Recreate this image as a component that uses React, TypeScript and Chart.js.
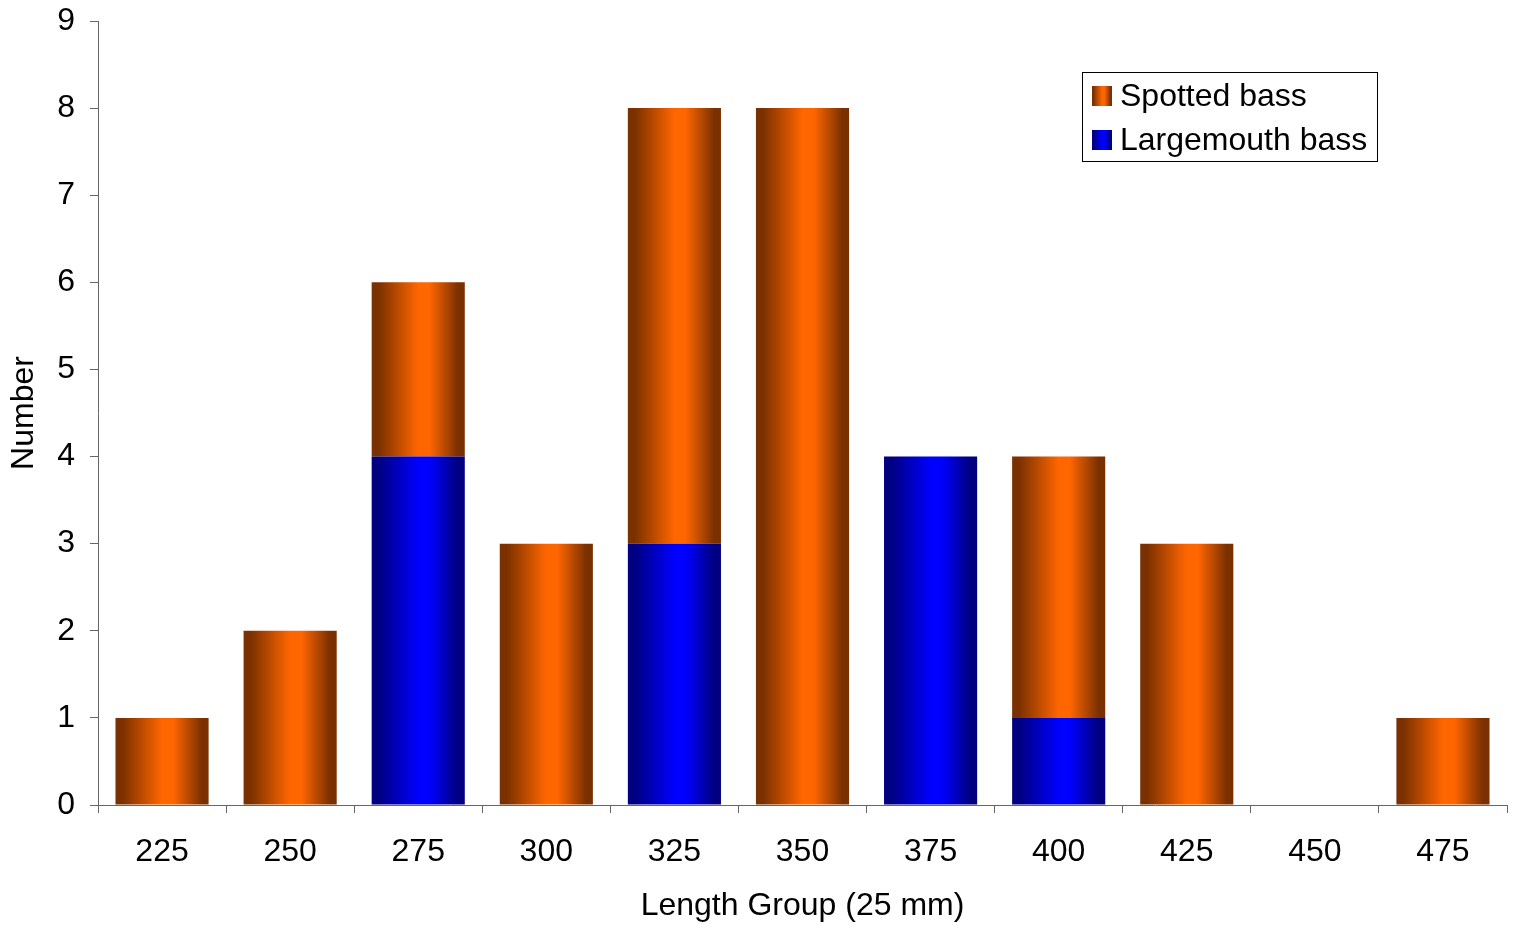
import React, { useEffect, useRef } from "react";
import { Chart, registerables } from "chart.js";

Chart.register(...registerables);

const categories = ["225", "250", "275", "300", "325", "350", "375", "400", "425", "450", "475"];
const largemouth = [0, 0, 4, 0, 3, 0, 4, 1, 0, 0, 0];
const spotted = [1, 2, 2, 3, 5, 8, 0, 3, 3, 0, 1];
const yTicks = [0, 1, 2, 3, 4, 5, 6, 7, 8, 9];

const FONT = "'Liberation Sans', Arial, sans-serif";
const FS = 32;
const BAR_FRACTION = 0.727;

const ORANGE = { dark: "#7a3000", bright: "#ff6600" };
const BLUE = { dark: "#000080", bright: "#0000ff" };

function makeGrad(c: CanvasRenderingContext2D, x0: number, x1: number, col: { dark: string; bright: string }) {
  const g = c.createLinearGradient(x0, 0, x1, 0);
  g.addColorStop(0, col.dark);
  g.addColorStop(0.07, col.dark);
  g.addColorStop(0.5, col.bright);
  g.addColorStop(0.62, col.bright);
  g.addColorStop(0.93, col.dark);
  g.addColorStop(1, col.dark);
  return g;
}

function barFill(col: { dark: string; bright: string }) {
  return (ctx: any) => {
    const chart = ctx.chart;
    const xs = chart.scales && chart.scales.x;
    if (!chart.chartArea || !xs || ctx.type !== "data") return col.bright;
    const cx = xs.getPixelForValue(ctx.dataIndex);
    const w = (xs.width / categories.length) * BAR_FRACTION;
    return makeGrad(chart.ctx, cx - w / 2, cx + w / 2, col);
  };
}

const legendPlugin = {
  id: "customLegend",
  afterDraw(chart: any) {
    const c: CanvasRenderingContext2D = chart.ctx;
    c.save();
    const bx = 1082.5, by = 72.5, bw = 295, bh = 89;
    c.fillStyle = "#fff";
    c.fillRect(bx, by, bw, bh);
    c.strokeStyle = "#000";
    c.lineWidth = 1;
    c.strokeRect(bx, by, bw, bh);
    const items = [
      { label: "Spotted bass", col: ORANGE, y: 96 },
      { label: "Largemouth bass", col: BLUE, y: 140 },
    ];
    c.font = `${FS}px ${FONT}`;
    c.textBaseline = "middle";
    c.textAlign = "left";
    for (const it of items) {
      c.fillStyle = makeGrad(c, 1092, 1112, it.col);
      c.fillRect(1092, it.y - 10, 20, 20);
      c.fillStyle = "#000";
      c.fillText(it.label, 1120, it.y + 1);
    }
    c.restore();
  },
};

export default function App() {
  const ref = useRef<HTMLCanvasElement>(null);
  useEffect(() => {
    document.body.style.margin = "0";
    const chart = new Chart(ref.current!, {
      type: "bar",
      data: {
        labels: categories,
        datasets: [
          {
            label: "Largemouth bass",
            data: largemouth,
            backgroundColor: barFill(BLUE),
            borderWidth: 0,
            barPercentage: BAR_FRACTION,
            categoryPercentage: 1,
          },
          {
            label: "Spotted bass",
            data: spotted,
            backgroundColor: barFill(ORANGE),
            borderWidth: 0,
            barPercentage: BAR_FRACTION,
            categoryPercentage: 1,
          },
        ],
      },
      options: {
        animation: false,
        responsive: false,
        maintainAspectRatio: false,
        layout: { padding: { top: 21, right: 10, left: 0, bottom: 0 } },
        plugins: { legend: { display: false }, tooltip: { enabled: false } },
        scales: {
          x: {
            stacked: true,
            grid: { display: true, drawOnChartArea: false, offset: true, tickLength: 8, color: "#666", tickColor: "#666" },
            border: { display: true, color: "#666", width: 1 },
            ticks: { color: "#000", font: { family: FONT, size: FS }, padding: 20, maxRotation: 0 },
            title: { display: true, text: "Length Group (25 mm)", color: "#000", font: { family: FONT, size: FS }, padding: { top: 4, bottom: 3 } },
            afterFit: (s: any) => {
              s.height = 928 - 805;
              s.paddingLeft = 0;
              s.paddingRight = 0;
            },
          },
          y: {
            stacked: true,
            min: 0,
            max: 9,
            afterBuildTicks: (s: any) => { s.ticks = yTicks.map((v) => ({ value: v })); },
            grid: { display: true, drawOnChartArea: false, tickLength: 8, color: "#666", tickColor: "#666" },
            border: { display: true, color: "#666", width: 1 },
            ticks: { color: "#000", font: { family: FONT, size: FS }, padding: 15 },
            title: { display: true, text: "Number", color: "#000", font: { family: FONT, size: FS }, padding: { top: 5, bottom: 0 } },
            afterFit: (s: any) => {
              s.width = 98;
              s.paddingTop = 0;
              s.paddingBottom = 0;
            },
          },
        },
      },
      plugins: [legendPlugin],
    });
    return () => chart.destroy();
  }, []);
  return (
    <div style={{ width: 1517, height: 928 }}>
      <canvas ref={ref} width={1517} height={928} style={{ width: 1517, height: 928, display: "block" }} />
    </div>
  );
}
